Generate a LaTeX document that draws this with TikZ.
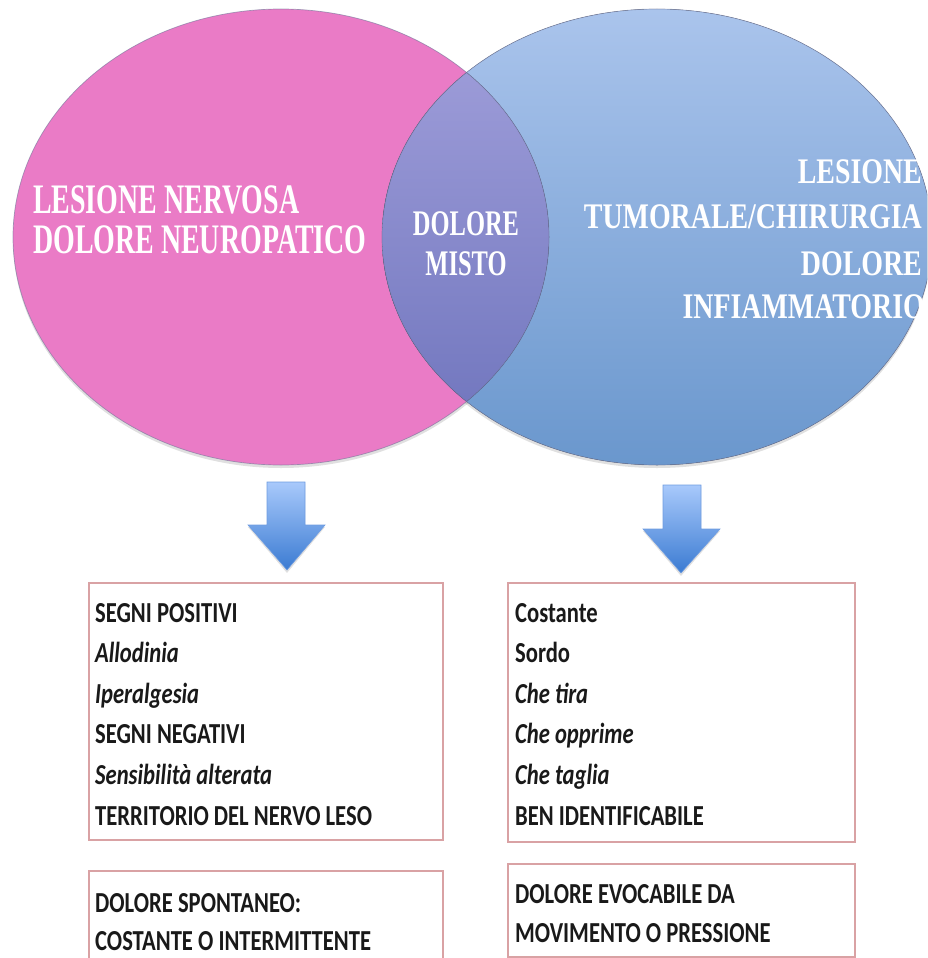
\documentclass[tikz,border=0pt]{standalone}
\usepackage{fontspec}
\setmainfont{Liberation Serif}
\newfontfamily\boxfont{Carlito}
\usetikzlibrary{calc}

\definecolor{neuropink}{HTML}{EA7BC6}
\definecolor{bluetop}{HTML}{AAC4EC}
\definecolor{bluebot}{HTML}{6A97CD}
\definecolor{lenstop}{HTML}{A3A1DC}
\definecolor{lensbot}{HTML}{6C72BB}
\definecolor{arrowtop}{HTML}{A8C9FB}
\definecolor{arrowbot}{HTML}{3B7BD2}
\definecolor{arrowedge}{HTML}{6F9CE0}
\definecolor{panelred}{HTML}{D9A2A4}
\definecolor{setedge}{HTML}{6F7598}

\tikzset{
  settitle/.style={text=white, inner sep=0pt, font=\bfseries\fontsize{42}{44}\selectfont},
  midtitle/.style={text=white, inner sep=0pt, font=\bfseries\fontsize{36}{40}\selectfont},
  listline/.style={text=black!90, inner sep=0pt, anchor=base west, xscale=0.78,
    font=\boxfont\bfseries\fontsize{29}{35}\selectfont},
  panel/.style={draw=panelred, line width=1.2pt, inner sep=0pt},
  downarrow/.style={top color=arrowtop, bottom color=arrowbot, draw=arrowedge, line width=0.6pt},
}

\begin{document}
\begin{tikzpicture}[x=1pt,y=-1pt]
  \useasboundingbox (0,0) rectangle (927,958);
  \clip (0,0) rectangle (927,958);

  % shadows of the two sets
  \fill[black, opacity=0.12] (281,240) ellipse [x radius=268, y radius=228];
  \fill[black, opacity=0.12] (657,240) ellipse [x radius=275, y radius=228];

  % the two sets
  \fill[neuropink] (281,237) ellipse [x radius=268, y radius=228];
  \fill[top color=bluetop, bottom color=bluebot] (657,237) ellipse [x radius=275, y radius=228];
  \begin{scope}
    \clip (281,237) ellipse [x radius=268, y radius=228];
    \fill[top color=lenstop, bottom color=lensbot] (657,237) ellipse [x radius=275, y radius=228];
  \end{scope}
  \draw[setedge, opacity=0.6, line width=0.7pt] (281,237) ellipse [x radius=268, y radius=228];
  \draw[setedge, opacity=0.6, line width=0.7pt] (657,237) ellipse [x radius=275, y radius=228];

  % titles
  \node[settitle, anchor=base west, xscale=0.665] (neuroA) at (33,213) {LESIONE NERVOSA};
  \node[settitle, anchor=base west, xscale=0.665] (neuroB) at (33,253) {DOLORE NEUROPATICO};

  \node[midtitle, anchor=base, xscale=0.68] (mistoA) at (466,235) {DOLORE};
  \node[midtitle, anchor=base, xscale=0.68] (mistoB) at (466,275) {MISTO};

  \node[midtitle, anchor=base east, xscale=0.775] (infA) at (922,183) {LESIONE};
  \node[midtitle, anchor=base east, xscale=0.775] (infB) at (922,228) {TUMORALE/CHIRURGIA};
  \node[midtitle, anchor=base east, xscale=0.775] (infC) at (922,275) {DOLORE};
  \node[midtitle, anchor=base east, xscale=0.775] (infD) at (925,318) {INFIAMMATORIO};

  % arrows
  \fill[black, opacity=0.12] (267,484) -- (305,484) -- (305,527) -- (325,527) -- (287,573) -- (248,527) -- (267,527) -- cycle;
  \fill[black, opacity=0.12] (663,487) -- (701,487) -- (701,531) -- (720,531) -- (681,576) -- (643,531) -- (663,531) -- cycle;
  \draw[downarrow] (267,482) -- (305,482) -- (305,525) -- (325,525) -- (287,570) -- (248,525) -- (267,525) -- cycle;
  \draw[downarrow] (663,485) -- (701,485) -- (701,529) -- (720,529) -- (681,573) -- (643,529) -- (663,529) -- cycle;

  % boxes
  \node[panel, minimum width=354, minimum height=257] (negbox) at (266,711.5) {};
  \node[panel, minimum width=354, minimum height=94] (negspont) at (266,918) {};
  \node[panel, minimum width=347, minimum height=259] (infbox) at (681.5,712.5) {};
  \node[panel, minimum width=347, minimum height=93] (infevoc) at (681.5,910.5) {};

  \foreach \txt [count=\k from 0] in {SEGNI POSITIVI, \textit{Allodinia}, \textit{Iperalgesia},
      SEGNI NEGATIVI, \textit{Sensibilità alterata}, TERRITORIO DEL NERVO LESO}
    \node[listline] (negl\k) at (95,{622+40.6*\k}) {\txt};
  \foreach \txt [count=\k from 0] in {Costante, Sordo, \textit{Che tira},
      \textit{Che opprime}, \textit{Che taglia}, BEN IDENTIFICABILE}
    \node[listline] (infl\k) at (515,{622+40.6*\k}) {\txt};

  \node[listline] (spontA) at (95,912) {DOLORE SPONTANEO:};
  \node[listline] (spontB) at (95,950) {COSTANTE O INTERMITTENTE};
  \node[listline] (evocA) at (515,903) {DOLORE EVOCABILE DA};
  \node[listline] (evocB) at (515,942) {MOVIMENTO O PRESSIONE};
\end{tikzpicture}
\end{document}
